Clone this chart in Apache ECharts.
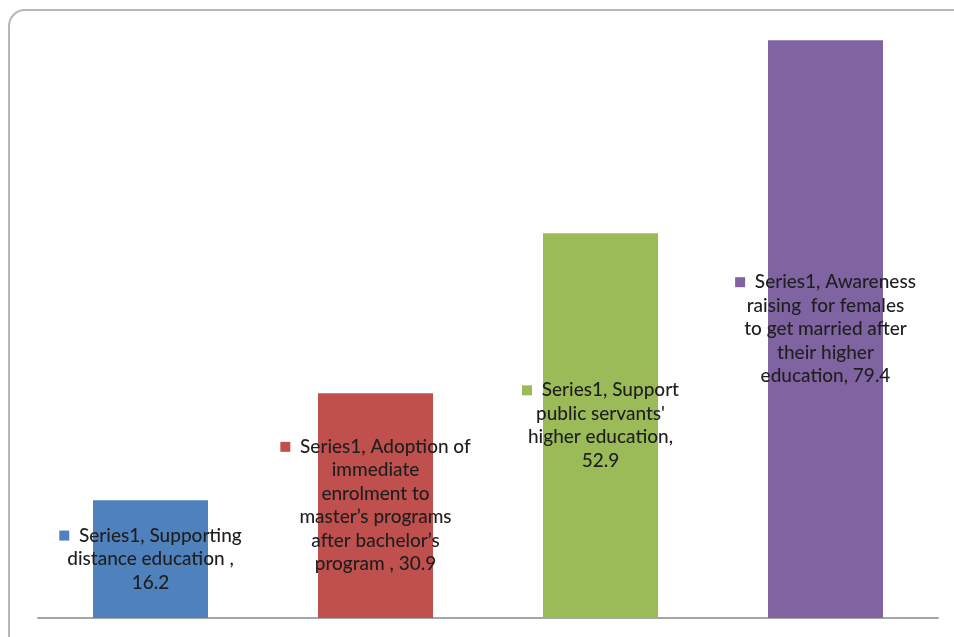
<!DOCTYPE html>
<html>
<head>
<meta charset="utf-8">
<script src="https://cdn.jsdelivr.net/npm/echarts@6/dist/echarts.min.js"></script>
<style>
html,body{margin:0;padding:0;background:#fff;}
#chart{width:954px;height:637px;}
</style>
</head>
<body>
<div id="chart"></div>
<script>
var seriesName = 'Series1';
var categories = [
  'Supporting distance education',
  'Adoption of immediate enrolment to master\'s programs after bachelor\'s program',
  'Support public servants\' higher education',
  'Awareness raising  for females to get married after their higher education'
];
var values = [16.2, 30.9, 52.9, 79.4];
var colors = ['#4F81BD', '#C0504D', '#9BBB59', '#8064A2'];
// label text lines as shown in the picture; the value is appended to the last line
var labelLines = [
  ['Series1, Supporting', 'distance education ,', ''],
  ['Series1, Adoption of', 'immediate', 'enrolment to', 'master\u2019s programs', 'after bachelor\u2019s', 'program , '],
  ['Series1, Support', 'public servants\'', 'higher education,', ''],
  ['Series1, Awareness', 'raising  for females', 'to get married after', 'their higher', 'education, ']
];

var chart = echarts.init(document.getElementById('chart'));
var option = {
  animation: false,
  backgroundColor: '#fff',
  graphic: [{
    type: 'rect',
    shape: {x: 9, y: 10, width: 1000, height: 700, r: 16},
    style: {fill: 'none', stroke: '#B8B8B8', lineWidth: 2},
    z: -1
  }],
  grid: {left: 38, right: 16, top: 36, bottom: 19},
  xAxis: {
    type: 'category',
    data: categories,
    axisLine: {show: true, lineStyle: {color: '#A6A6A6', width: 2}},
    axisTick: {show: false},
    axisLabel: {show: false}
  },
  yAxis: {
    type: 'value',
    min: 0, max: 80,
    show: false,
    splitLine: {show: false}
  },
  series: [{
    name: seriesName,
    type: 'bar',
    barWidth: 115,
    data: values.map(function (v, i) {
      return {value: v, itemStyle: {color: colors[i]}};
    }),
    label: {
      show: true,
      position: 'inside',
      align: 'center',
      fontFamily: 'Lato',
      fontSize: 19,
      lineHeight: 23.5,
      color: '#1f1f1f',
      formatter: function (p) {
        var lines = labelLines[p.dataIndex].slice();
        lines[lines.length - 1] = lines[lines.length - 1] + p.value;
        var out = lines.map(function (l, k) {
          return (k === 0 ? '{m' + p.dataIndex + '|}  ' : '') + '{t|' + l + '}';
        });
        return out.join('\n');
      },
      rich: {
        t: {fontFamily: 'Lato', fontSize: 19, fontWeight: 500, lineHeight: 23.5, color: '#1f1f1f'},
        m0: {width: 10, height: 10, backgroundColor: colors[0]},
        m1: {width: 10, height: 10, backgroundColor: colors[1]},
        m2: {width: 10, height: 10, backgroundColor: colors[2]},
        m3: {width: 10, height: 10, backgroundColor: colors[3]}
      }
    }
  }]
};
chart.setOption(option);
</script>
</body>
</html>
